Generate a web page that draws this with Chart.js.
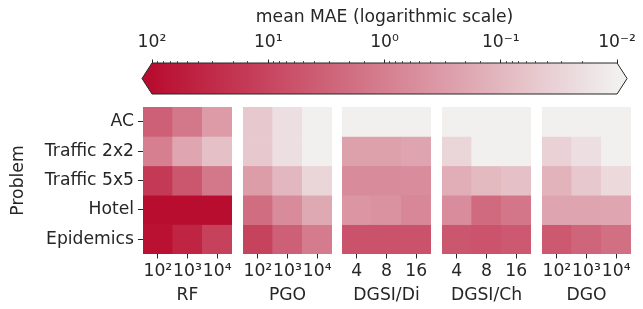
<!DOCTYPE html>
<html><head><meta charset="utf-8">
<script src="https://cdn.jsdelivr.net/npm/chart.js@4"></script>
<style>
html,body{margin:0;padding:0;background:#fff;}
#wrap{position:relative;width:643px;height:309px;overflow:hidden;}
#wrap canvas{position:absolute;left:0;top:0;}
</style></head>
<body><div id="wrap">
<canvas id="cb" width="643" height="309"></canvas>
<canvas id="p0" width="643" height="309"></canvas>
<canvas id="p1" width="643" height="309"></canvas>
<canvas id="p2" width="643" height="309"></canvas>
<canvas id="p3" width="643" height="309"></canvas>
<canvas id="p4" width="643" height="309"></canvas>
</div>
<script>
// ---------- data ----------
const problems = ['AC', 'Traffic 2x2', 'Traffic 5x5', 'Hotel', 'Epidemics'];
const methods = ['RF', 'PGO', 'DGSI/Di', 'DGSI/Ch', 'DGO'];
const budgetLabels = ['10²', '10³', '10⁴'];
const depthLabels = ['4', '8', '16'];
// mean MAE per problem (rows) and setting (columns)
const rfMAE      = [[3.5, 1.3, 0.32], [1.0, 0.2, 0.07], [16, 5, 1.3], [150, 130, 120], [90, 40, 12]];
const pgoMAE     = [[0.05, 0.02, 0.009], [0.05, 0.02, 0.008], [0.3, 0.1, 0.03], [2.0, 0.6, 0.18], [11, 3.5, 1.1]];
const dgsiDiMAE  = [[0.008, 0.008, 0.008], [0.25, 0.25, 0.22], [0.6, 0.6, 0.55], [0.4, 0.45, 0.7], [6, 6, 6]];
const dgsiChMAE  = [[0.008, 0.008, 0.008], [0.03, 0.008, 0.008], [0.15, 0.09, 0.07], [0.55, 2.2, 1.4], [5, 5.5, 4.5]];
const dgoMAE     = [[0.008, 0.008, 0.008], [0.035, 0.02, 0.008], [0.12, 0.05, 0.025], [0.22, 0.22, 0.2], [4.5, 2.8, 1.8]];
const colorbarTicks = [100, 10, 1, 0.1, 0.01];
const colorbarTickLabels = ['10²', '10¹', '10⁰', '10⁻¹', '10⁻²'];
const colorbarTitle = 'mean MAE (logarithmic scale)';
const yTitle = 'Problem';

// ---------- style ----------
const FONT = {family: "'DejaVu Sans', sans-serif", size: 17.2};
const TXT = '#262626';
const HIGH = [185, 13, 48];    // colour at 10^2
const LOW = [241, 240, 239];   // colour at 10^-2
const W = 643, H = 309;
const panelLeft = [143, 243, 342, 442, 542];
const panelWidth = 89;
const panelTop = 107, panelBottom = 254;
const cbLeft = 152, cbRight = 621.7, cbTop = 63, cbBottom = 94;

function cmap(v) {
  let t = (2 - Math.log10(v)) / 4;
  t = Math.max(0, Math.min(1, t));
  const c = HIGH.map((h, i) => Math.round(h + (LOW[i] - h) * t));
  return `rgb(${c[0]},${c[1]},${c[2]})`;
}

function makePanel(id, idx, title, xlabels, values) {
  const showY = idx === 0;
  const datasets = problems.map((p, r) => ({
    label: p,
    data: xlabels.map(() => 1),
    backgroundColor: values[r].map(cmap),
    borderWidth: 0,
    categoryPercentage: 1,
    barPercentage: 1
  }));
  new Chart(document.getElementById(id), {
    type: 'bar',
    data: {labels: xlabels, datasets},
    options: {
      responsive: false, animation: false, events: [],
      plugins: {legend: {display: false}, tooltip: {enabled: false}},
      layout: {padding: {left: showY ? 0 : panelLeft[idx], right: W - panelLeft[idx] - panelWidth, top: panelTop, bottom: 0}},
      scales: {
        x: {
          stacked: true, offset: true,
          grid: {drawOnChartArea: false, offset: false, tickLength: 4.5, tickColor: TXT, tickWidth: 1},
          border: {display: false},
          ticks: {color: TXT, font: FONT, padding: 3, maxRotation: 0, autoSkip: false},
          title: {display: true, text: title, color: TXT, font: FONT, padding: {top: 0, bottom: 3}},
          afterFit(s) { s.height = H - panelBottom; }
        },
        y: {
          display: showY, stacked: true, min: 0, max: 5, reverse: true,
          grid: {drawOnChartArea: false, tickLength: 5, tickColor: TXT, tickWidth: 1},
          border: {display: false},
          afterBuildTicks(s) { s.ticks = problems.map((p, i) => ({value: i + 0.5})); },
          ticks: {color: TXT, font: FONT, padding: 4, autoSkip: false,
                  callback: v => problems[Math.floor(v)]},
          title: {display: true, text: yTitle, color: TXT, font: FONT, padding: {top: 8, bottom: 0}},
          afterFit(s) { s.width = showY ? panelLeft[0] : 0; }
        }
      }
    }
  });
}

const allValues = [rfMAE, pgoMAE, dgsiDiMAE, dgsiChMAE, dgoMAE];
methods.forEach((m, i) => {
  const lbl = (m === 'DGSI/Di' || m === 'DGSI/Ch') ? depthLabels : budgetLabels;
  makePanel('p' + i, i, m, lbl, allValues[i]);
});

// ---------- colour bar ----------
function isPow10(v) { const l = Math.log10(v); return Math.abs(l - Math.round(l)) < 1e-6; }
const outlinePlugin = {
  id: 'cbOutline',
  afterDatasetsDraw(chart) {
    const xs = chart.scales.x, ca = chart.chartArea, ctx = chart.ctx;
    const l = xs.getPixelForValue(colorbarTicks[0]);
    const r = xs.getPixelForValue(colorbarTicks[colorbarTicks.length - 1]);
    const t = ca.top, b = ca.bottom, m = (t + b) / 2, ext = 10;
    ctx.save();
    ctx.fillStyle = cmap(1e9);
    ctx.beginPath(); ctx.moveTo(l, t); ctx.lineTo(l - ext, m); ctx.lineTo(l, b); ctx.closePath(); ctx.fill();
    ctx.fillStyle = cmap(1e-9);
    ctx.beginPath(); ctx.moveTo(r, t); ctx.lineTo(r + ext, m); ctx.lineTo(r, b); ctx.closePath(); ctx.fill();
    ctx.strokeStyle = TXT; ctx.lineWidth = 1;
    ctx.beginPath();
    ctx.moveTo(l, t); ctx.lineTo(r, t); ctx.lineTo(r + ext, m); ctx.lineTo(r, b);
    ctx.lineTo(l, b); ctx.lineTo(l - ext, m); ctx.closePath(); ctx.stroke();
    ctx.restore();
  }
};
new Chart(document.getElementById('cb'), {
  type: 'bar',
  data: {labels: [''], datasets: [{
    data: [[colorbarTicks[colorbarTicks.length - 1], colorbarTicks[0]]],
    borderWidth: 0, categoryPercentage: 1, barPercentage: 1, inflateAmount: 0,
    backgroundColor(ctx) {
      const chart = ctx.chart;
      if (!chart.chartArea) return cmap(1);
      const xs = chart.scales.x;
      const x0 = xs.getPixelForValue(colorbarTicks[0]);
      const x1 = xs.getPixelForValue(colorbarTicks[colorbarTicks.length - 1]);
      const g = chart.ctx.createLinearGradient(x0, 0, x1, 0);
      for (let k = 0; k <= 10; k++) {
        const v = Math.pow(10, 2 - 4 * k / 10);
        g.addColorStop(k / 10, cmap(v));
      }
      return g;
    }
  }]},
  options: {
    indexAxis: 'y', responsive: false, animation: false, events: [],
    plugins: {legend: {display: false}, tooltip: {enabled: false}},
    layout: {padding: {left: cbLeft, right: W - cbRight, top: 0, bottom: H - cbBottom}},
    scales: {
      x: {
        type: 'logarithmic', position: 'top', min: 0.01, max: 100, reverse: true, weight: 1,
        grid: {drawOnChartArea: false, tickLength: 3.5, tickWidth: 1,
               tickColor: c => isPow10(c.tick.value) ? TXT : 'rgba(0,0,0,0)'},
        border: {display: false},
        ticks: {color: TXT, font: FONT, padding: 7, maxRotation: 0, autoSkip: false,
                callback(v) {
                  if (!isPow10(v)) return '';
                  const i = colorbarTicks.findIndex(t => Math.abs(Math.log10(t) - Math.log10(v)) < 1e-6);
                  return i >= 0 ? colorbarTickLabels[i] : '';
                }},
        title: {display: true, text: colorbarTitle, color: TXT, font: FONT, padding: {top: 7, bottom: 0}},
        afterFit(s) { s.height = cbTop; }
      },
      x2: {
        type: 'logarithmic', axis: 'x', position: 'top', min: 0.01, max: 100, reverse: true, weight: 0,
        grid: {drawOnChartArea: false, tickLength: 2, tickWidth: 0.8, tickColor: TXT},
        border: {display: false},
        ticks: {display: false},
        afterFit(s) { s.height = 0; }
      },
      y: {display: false}
    }
  },
  plugins: [outlinePlugin]
});
</script>
</body></html>
